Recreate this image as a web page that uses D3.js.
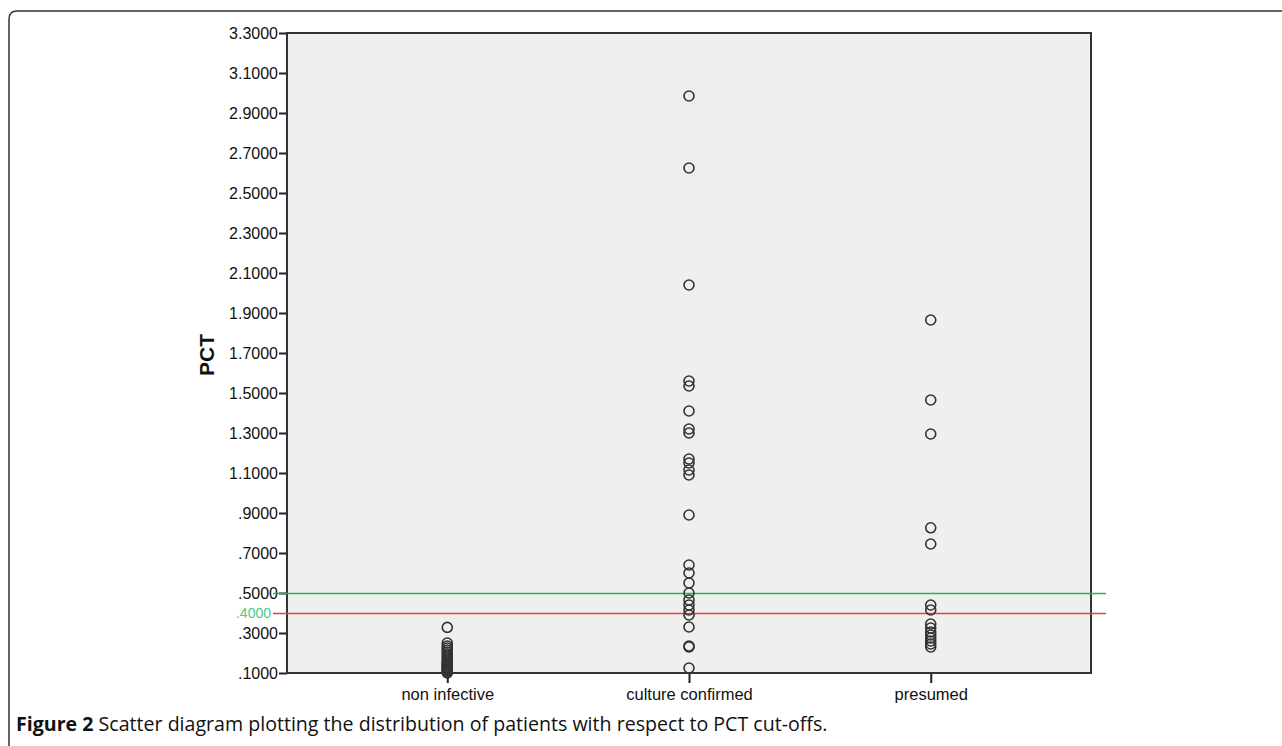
<!DOCTYPE html>
<html lang="en">
<head>
    <meta charset="UTF-8">
    <title>PCT scatter</title>
    <script src="https://d3js.org/d3.v7.min.js"></script>
    <style>
        body { margin: 0; background: #fff; }
        .tick text { font-family: "Liberation Sans", Arial, sans-serif; }
    </style>
</head>
<body>
    <script>
        const width = 1282;
        const height = 746;

        // groups on the x axis
        const categories = ["non infective", "culture confirmed", "presumed"];

        // PCT values, one array per group
        const nonInfective = [0.328, 0.25, 0.235, 0.225, 0.215, 0.205, 0.195, 0.185, 0.175, 0.165,
            0.155, 0.145, 0.135, 0.125, 0.115, 0.105, 0.10, 0.11, 0.12, 0.13, 0.14, 0.15];
        const cultureConfirmed = [2.985, 2.625, 2.04, 1.56, 1.535, 1.41, 1.32, 1.30, 1.17, 1.15,
            1.115, 1.09, 0.89, 0.64, 0.60, 0.55, 0.50, 0.465, 0.44, 0.415, 0.39, 0.33, 0.235, 0.23, 0.125];
        const presumed = [1.865, 1.465, 1.295, 0.826, 0.745, 0.44, 0.415, 0.345, 0.325, 0.305,
            0.29, 0.275, 0.26, 0.245, 0.23];

        const yTicks = [0.1, 0.3, 0.5, 0.7, 0.9, 1.1, 1.3, 1.5, 1.7, 1.9, 2.1, 2.3, 2.5, 2.7, 2.9, 3.1, 3.3];
        const cutoffs = [
            { value: 0.5, color: "#1db84a" },
            { value: 0.4, color: "#f23c3c" }
        ];
        const cutoffLabel = ".4000";
        const caption = "Scatter diagram plotting the distribution of patients with respect to PCT cut-offs.";

        const points = [];
        [nonInfective, cultureConfirmed, presumed].forEach((vals, i) => {
            vals.forEach(v => points.push({ cat: categories[i], v: v }));
        });

        const plot = { left: 287, top: 33, right: 1091, bottom: 673 };

        const svg = d3.select("body").append("svg")
            .attr("width", width)
            .attr("height", height);

        // outer frame with rounded top-left corner
        svg.append("path")
            .attr("d", `M9,${height + 2} L9,19 Q9,11 17,11 L${width + 2},11`)
            .attr("fill", "none")
            .attr("stroke", "#333")
            .attr("stroke-width", 1.5);

        const x = d3.scalePoint()
            .domain(categories)
            .range([plot.left, plot.right])
            .padding(0.663);

        const y = d3.scaleLinear()
            .domain([0.1, 3.3])
            .range([plot.bottom, plot.top]);

        svg.append("rect")
            .attr("x", plot.left)
            .attr("y", plot.top)
            .attr("width", plot.right - plot.left)
            .attr("height", plot.bottom - plot.top)
            .attr("fill", "#efefef");

        // y axis
        const yAxis = svg.append("g")
            .attr("transform", `translate(${plot.left},0)`)
            .call(d3.axisLeft(y).tickValues(yTicks).tickSize(8).tickPadding(1)
                .tickFormat(d => d3.format(".4f")(d).replace(/^0/, "")));
        yAxis.select(".domain").remove();
        yAxis.selectAll(".tick line").attr("stroke", "#222").attr("stroke-width", 2);
        yAxis.selectAll(".tick text").attr("font-size", 16).attr("fill", "#111");

        // x axis
        const xAxis = svg.append("g")
            .attr("transform", `translate(0,${plot.bottom})`)
            .call(d3.axisBottom(x).tickSize(10).tickPadding(5));
        xAxis.select(".domain").remove();
        xAxis.selectAll(".tick line").attr("stroke", "#222").attr("stroke-width", 2);
        xAxis.selectAll(".tick text").attr("font-size", 16.5).attr("fill", "#111");

        // plot border
        svg.append("rect")
            .attr("x", plot.left)
            .attr("y", plot.top)
            .attr("width", plot.right - plot.left)
            .attr("height", plot.bottom - plot.top)
            .attr("fill", "none")
            .attr("stroke", "#333")
            .attr("stroke-width", 2);

        // cut-off lines
        svg.selectAll(".cutoff")
            .data(cutoffs)
            .enter().append("line")
            .attr("class", "cutoff")
            .attr("x1", plot.left - 14)
            .attr("x2", plot.right + 15)
            .attr("y1", d => Math.round(y(d.value)) + 0.5)
            .attr("y2", d => Math.round(y(d.value)) + 0.5)
            .attr("stroke", d => d.color)
            .attr("stroke-width", 1.5);

        svg.append("text")
            .attr("x", 271)
            .attr("y", y(0.4) + 5)
            .attr("text-anchor", "end")
            .attr("font-family", "Liberation Sans, Arial, sans-serif")
            .attr("font-size", 14)
            .attr("fill", "#4cc88a")
            .text(cutoffLabel);

        // points
        svg.append("g").selectAll("circle")
            .data(points)
            .enter().append("circle")
            .attr("cx", d => x(d.cat))
            .attr("cy", d => y(d.v))
            .attr("r", 5)
            .attr("fill", "none")
            .attr("stroke", "#333")
            .attr("stroke-width", 1.6);

        // y title
        svg.append("text")
            .attr("transform", `translate(214,${(plot.top + plot.bottom) / 2 + 2}) rotate(-90)`)
            .attr("text-anchor", "middle")
            .attr("font-family", "Liberation Sans, Arial, sans-serif")
            .attr("font-weight", "bold")
            .attr("font-size", 21)
            .attr("fill", "#111")
            .text("PCT");

        // caption
        const cap = svg.append("text")
            .attr("x", 16)
            .attr("y", 731)
            .attr("font-family", "Open Sans, sans-serif")
            .attr("font-size", 19.6)
            .attr("fill", "#111");
        cap.append("tspan").attr("font-weight", "bold").text("Figure 2 ");
        cap.append("tspan").text(caption);
    </script>
</body>
</html>
